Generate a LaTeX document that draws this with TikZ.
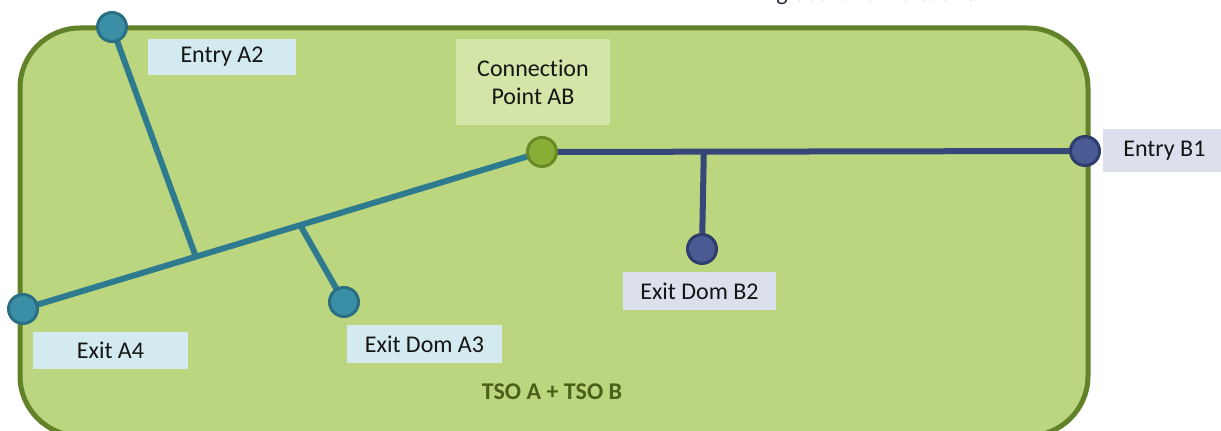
\documentclass[tikz,border=0pt]{standalone}
\usepackage{fontspec}
\setmainfont{Carlito}[Ligatures=NoCommon]
\usetikzlibrary{calc}
\pgfdeclarelayer{area}
\pgfdeclarelayer{wires}
\pgfsetlayers{area,wires,main}
\definecolor{areafill}{HTML}{BBD67E}
\definecolor{areaedge}{HTML}{62822A}
\definecolor{tealline}{HTML}{2E7A8E}
\definecolor{tealfill}{HTML}{3A8FA6}
\definecolor{tealedge}{HTML}{2A6E84}
\definecolor{navyline}{HTML}{36477A}
\definecolor{navyfill}{HTML}{4A5B93}
\definecolor{navyedge}{HTML}{2F3D6D}
\definecolor{cpfill}{HTML}{8AAE35}
\definecolor{cpedge}{HTML}{688A25}
\definecolor{tealtag}{HTML}{D4EAF1}
\definecolor{navytag}{HTML}{DCE0EC}
\definecolor{cptag}{HTML}{D3E5A7}
\definecolor{tsotext}{HTML}{4A601A}
\definecolor{notetext}{HTML}{2A2A3A}
\tikzset{
  pt/.style={circle,inner sep=0pt,minimum size=14.5pt,line width=1.5pt},
  tealpt/.style={pt,fill=tealfill,draw=tealedge},
  navypt/.style={pt,fill=navyfill,draw=navyedge},
  cppt/.style={pt,fill=cpfill,draw=cpedge},
  tag/.style={inner sep=0pt,font=\fontsize{12pt}{14pt}\selectfont,text=black!92,align=center},
  tealwire/.style={draw=tealline,line width=3pt},
  navywire/.style={draw=navyline,line width=3pt},
}
\begin{document}
\begin{tikzpicture}[x=0.5pt,y=-0.5pt]
\useasboundingbox (0,0) rectangle (1221,431);
% market area
\begin{pgfonlayer}{area}
\draw[fill=areafill,draw=areaedge,line width=2.5pt,rounded corners=30pt]
  (20,28) rectangle (1088,436);
\end{pgfonlayer}
% note running off the top edge
\node[anchor=base west,inner sep=0pt,text=notetext,font=\fontsize{12pt}{14pt}\selectfont] (note) at (776,1) {global and indicative};
% label boxes
\node[tag,fill=tealtag,minimum width=74pt,minimum height=18pt] (lA2) at (222,57) {Entry A2};
\node[tag,fill=cptag,minimum width=77pt,minimum height=43pt] (lAB) at (533,82) {Connection\\Point AB};
\node[tag,fill=navytag,minimum width=59pt,minimum height=21.5pt,anchor=west] (lB1) at (1103,151) {\hspace*{2pt}Entry B1};
\node[tag,fill=tealtag,minimum width=77.5pt,minimum height=18.5pt] (lA4) at (110.5,350.5) {Exit A4};
\node[tag,fill=tealtag,minimum width=77.5pt,minimum height=19pt] (lA3) at (424.5,344) {Exit Dom A3};
\node[tag,fill=navytag,minimum width=76.5pt,minimum height=19pt] (lB2) at (699.5,291) {Exit Dom B2};
\node[inner sep=0pt,font=\fontsize{12pt}{14pt}\selectfont\bfseries,text=tsotext] (tso) at (552,392) {TSO A + TSO B};
% points
\node[tealpt] (A2) at (112,27) {};
\node[tealpt] (A4) at (23,309) {};
\node[tealpt] (A3) at (344,302) {};
\node[cppt] (AB) at (542,152) {};
\node[navypt] (B1) at (1085,151) {};
\node[navypt] (B2) at (702,249) {};
% junctions on the pipelines
\coordinate (jA2) at ($(A4.center)!0.333!(AB.center)$);
\coordinate (jA3) at ($(A4.center)!0.534!(AB.center)$);
\coordinate (jB2) at ($(AB.center)!0.298!(B1.center)$);
% pipelines
\begin{pgfonlayer}{wires}
\draw[tealwire] (A4.center) -- (AB.center);
\draw[tealwire] (A2.center) -- (jA2);
\draw[tealwire] (jA3) -- (A3.center);
\draw[navywire] (AB.center) -- (B1.center);
\draw[navywire] (jB2) -- (B2.center);
\end{pgfonlayer}
\end{tikzpicture}
\end{document}
